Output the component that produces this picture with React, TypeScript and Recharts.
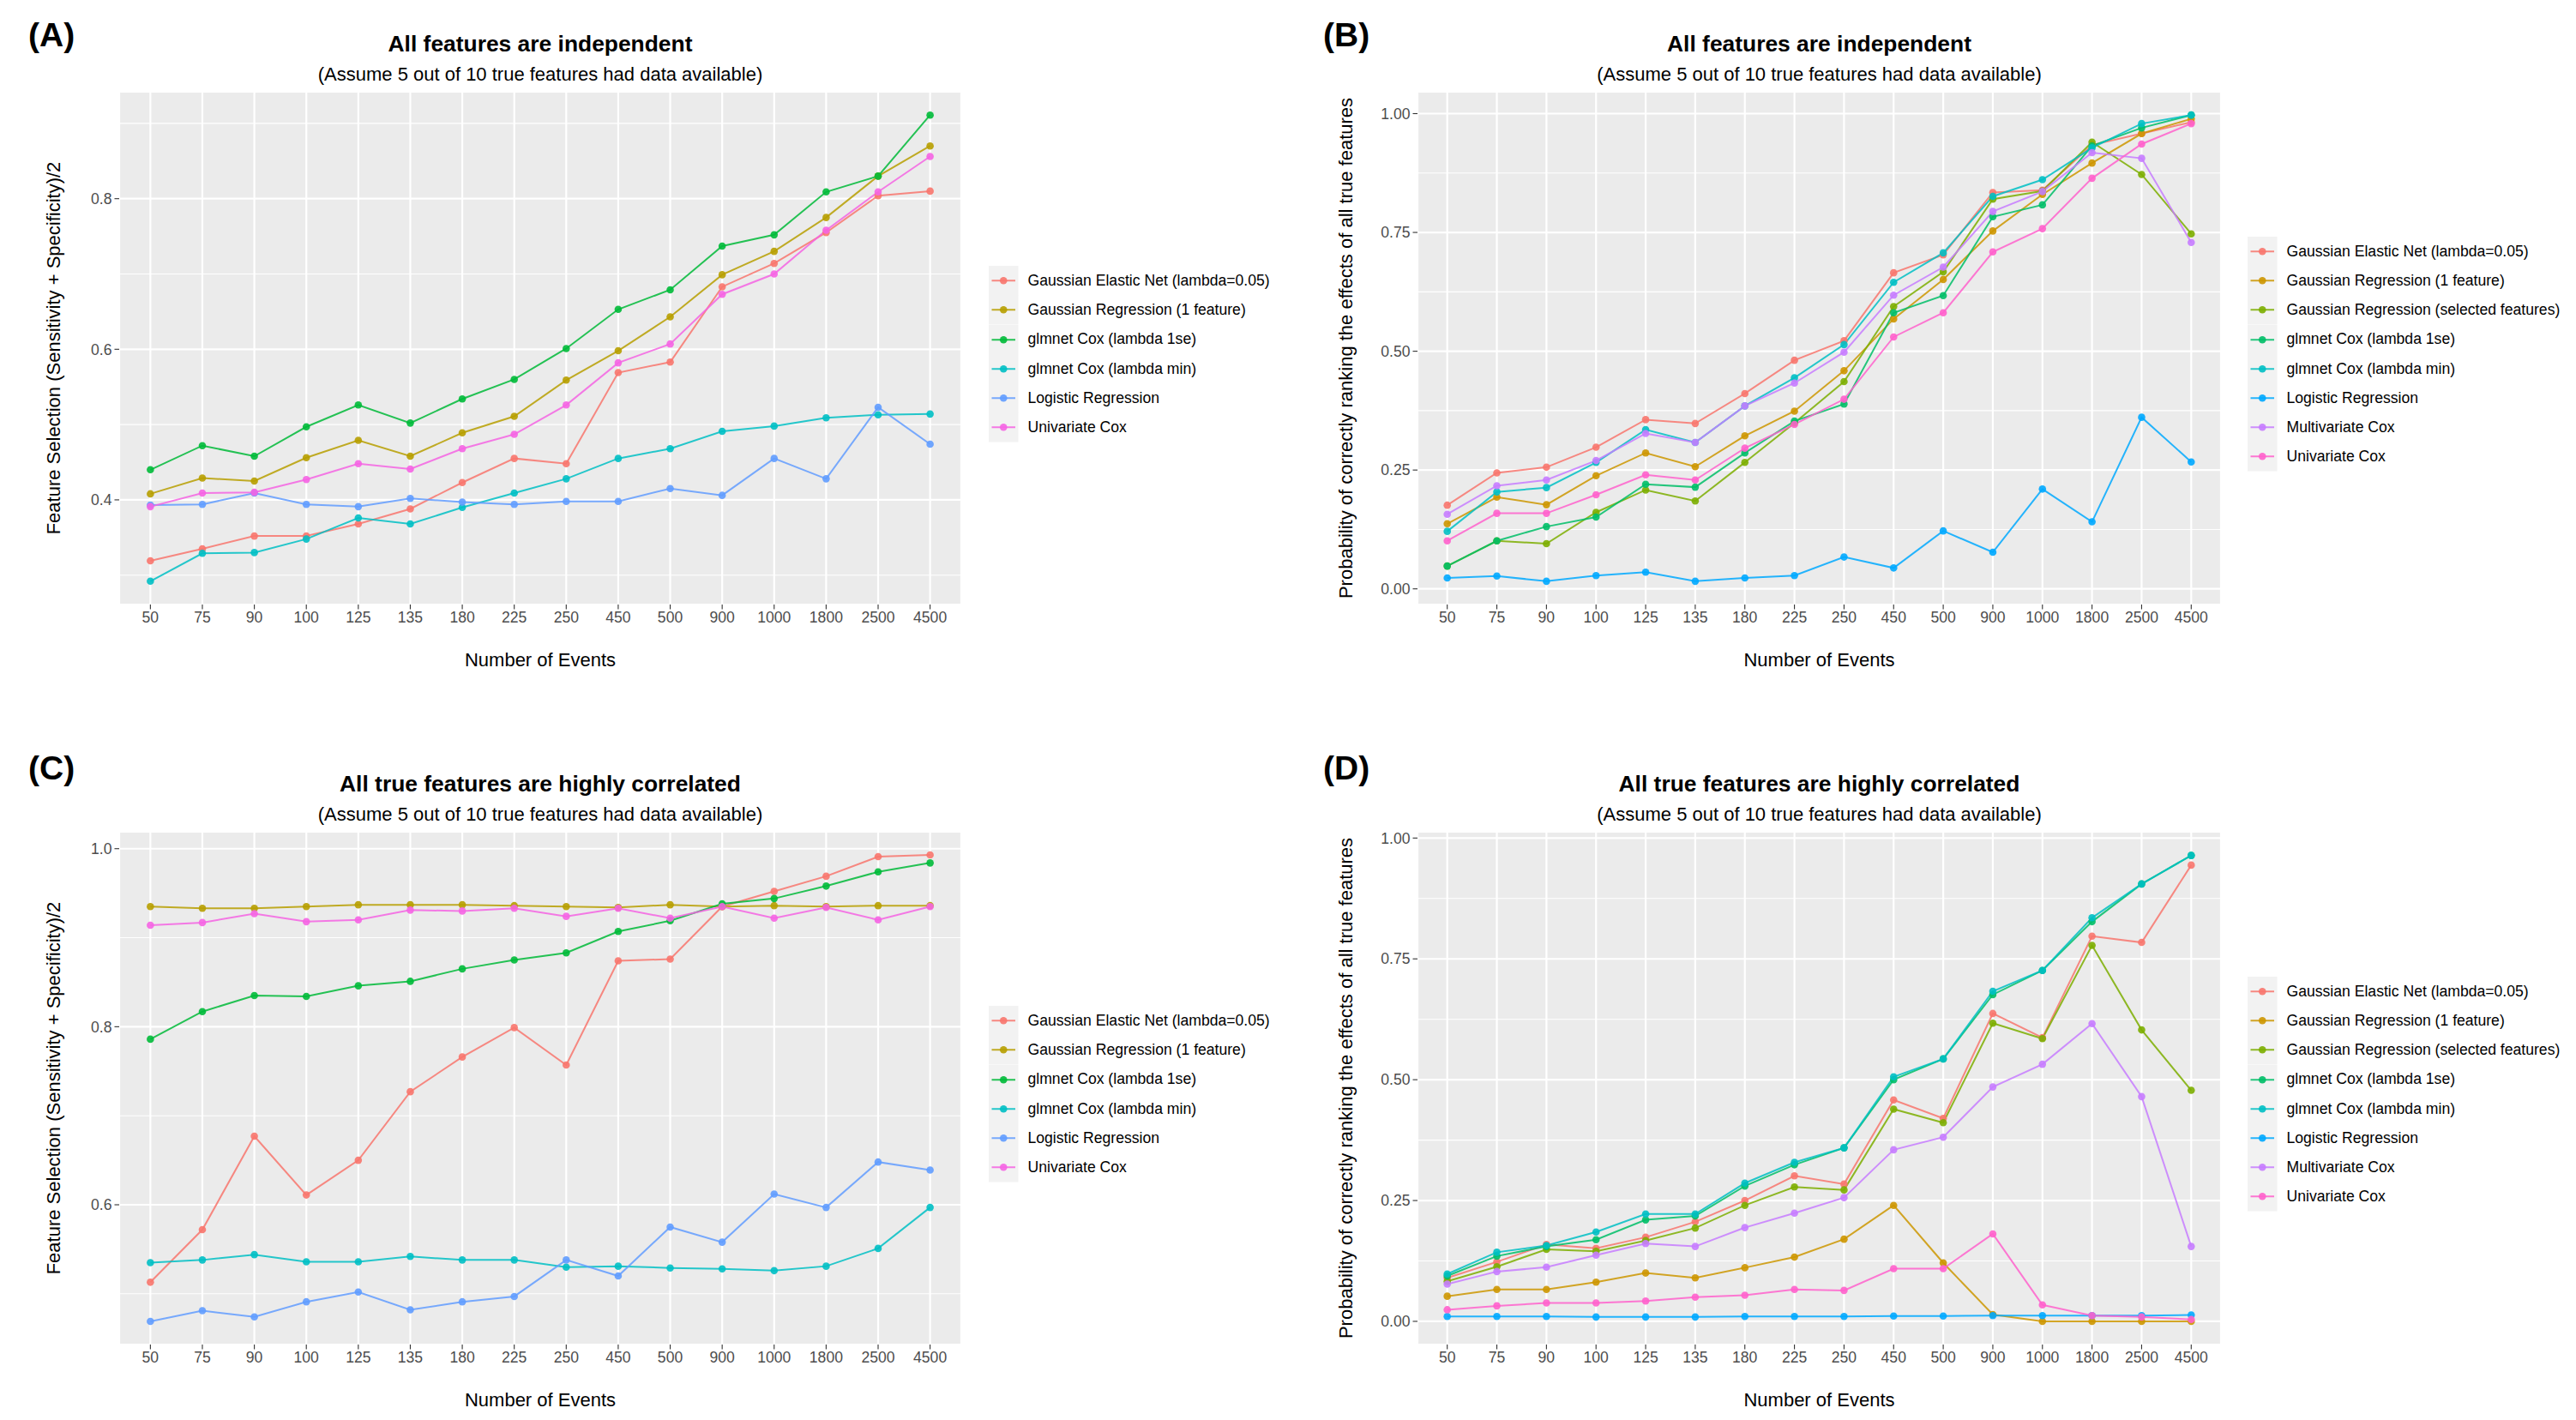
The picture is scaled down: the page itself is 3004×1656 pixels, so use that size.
import React from 'react';
import { LineChart, Line, XAxis, YAxis, CartesianGrid } from 'recharts';

const FONT = '"Liberation Sans", Arial, Helvetica, sans-serif';

const events = ['50', '75', '90', '100', '125', '135', '180', '225', '250', '450', '500', '900', '1000', '1800', '2500', '4500'];

const names6 = [
  'Gaussian Elastic Net (lambda=0.05)',
  'Gaussian Regression (1 feature)',
  'glmnet Cox (lambda 1se)',
  'glmnet Cox (lambda min)',
  'Logistic Regression',
  'Univariate Cox',
];
const names8 = [
  'Gaussian Elastic Net (lambda=0.05)',
  'Gaussian Regression (1 feature)',
  'Gaussian Regression (selected features)',
  'glmnet Cox (lambda 1se)',
  'glmnet Cox (lambda min)',
  'Logistic Regression',
  'Multivariate Cox',
  'Univariate Cox',
];
const hue6 = ['#F8766D', '#B79F00', '#00BA38', '#00BFC4', '#619CFF', '#F564E3'];
const hue8 = ['#F8766D', '#CD9600', '#7CAE00', '#00BE67', '#00BFC4', '#00A9FF', '#C77CFF', '#FF61CC'];

// (A) independent features, feature selection
const aElasticNet = [0.319, 0.335, 0.352, 0.352, 0.368, 0.388, 0.423, 0.455, 0.448, 0.569, 0.583, 0.683, 0.714, 0.755, 0.804, 0.810];
const aGaussReg1 = [0.408, 0.429, 0.425, 0.456, 0.479, 0.458, 0.489, 0.511, 0.559, 0.598, 0.643, 0.699, 0.730, 0.775, 0.830, 0.870];
const aCox1se = [0.440, 0.472, 0.458, 0.497, 0.526, 0.502, 0.534, 0.560, 0.601, 0.653, 0.679, 0.737, 0.752, 0.809, 0.830, 0.911];
const aCoxMin = [0.292, 0.329, 0.330, 0.348, 0.376, 0.368, 0.390, 0.409, 0.428, 0.455, 0.468, 0.491, 0.498, 0.509, 0.513, 0.514];
const aLogistic = [0.393, 0.394, 0.409, 0.394, 0.391, 0.402, 0.397, 0.394, 0.398, 0.398, 0.415, 0.406, 0.455, 0.428, 0.523, 0.474];
const aUniCox = [0.391, 0.409, 0.410, 0.427, 0.448, 0.441, 0.468, 0.487, 0.526, 0.582, 0.607, 0.673, 0.700, 0.758, 0.809, 0.856];

// (B) independent features, ranking probability
const bElasticNet = [0.176, 0.244, 0.256, 0.298, 0.356, 0.348, 0.411, 0.481, 0.522, 0.665, 0.703, 0.834, 0.839, 0.934, 0.958, 0.982];
const bGaussReg1 = [0.137, 0.193, 0.177, 0.238, 0.286, 0.257, 0.322, 0.374, 0.459, 0.568, 0.651, 0.753, 0.830, 0.896, 0.958, 0.989];
const bGaussRegSel = [0.048, 0.101, 0.095, 0.161, 0.208, 0.185, 0.266, 0.349, 0.436, 0.594, 0.667, 0.820, 0.837, 0.940, 0.872, 0.747];
const bCox1se = [0.048, 0.101, 0.131, 0.151, 0.220, 0.214, 0.286, 0.353, 0.389, 0.581, 0.617, 0.783, 0.808, 0.932, 0.970, 0.997];
const bCoxMin = [0.121, 0.204, 0.213, 0.266, 0.335, 0.308, 0.385, 0.444, 0.514, 0.645, 0.707, 0.826, 0.861, 0.928, 0.979, 0.997];
const bLogistic = [0.023, 0.027, 0.016, 0.028, 0.035, 0.016, 0.023, 0.028, 0.067, 0.044, 0.122, 0.077, 0.210, 0.141, 0.361, 0.267];
const bMultiCox = [0.157, 0.217, 0.229, 0.270, 0.327, 0.308, 0.385, 0.433, 0.498, 0.618, 0.677, 0.794, 0.836, 0.918, 0.906, 0.729];
const bUniCox = [0.101, 0.159, 0.159, 0.198, 0.240, 0.229, 0.296, 0.346, 0.399, 0.530, 0.581, 0.709, 0.758, 0.864, 0.936, 0.979];

// (C) correlated features, feature selection
const cElasticNet = [0.513, 0.572, 0.677, 0.611, 0.650, 0.727, 0.766, 0.799, 0.757, 0.874, 0.876, 0.935, 0.952, 0.969, 0.991, 0.993];
const cGaussReg1 = [0.935, 0.933, 0.933, 0.935, 0.937, 0.937, 0.937, 0.936, 0.935, 0.934, 0.937, 0.935, 0.936, 0.935, 0.936, 0.936];
const cCox1se = [0.786, 0.817, 0.835, 0.834, 0.846, 0.851, 0.865, 0.875, 0.883, 0.907, 0.919, 0.938, 0.944, 0.958, 0.974, 0.984];
const cCoxMin = [0.535, 0.538, 0.544, 0.536, 0.536, 0.542, 0.538, 0.538, 0.530, 0.531, 0.529, 0.528, 0.526, 0.531, 0.551, 0.597];
const cLogistic = [0.469, 0.481, 0.474, 0.491, 0.502, 0.482, 0.491, 0.497, 0.538, 0.520, 0.575, 0.558, 0.612, 0.597, 0.648, 0.639];
const cUniCox = [0.914, 0.917, 0.927, 0.918, 0.920, 0.931, 0.930, 0.933, 0.924, 0.933, 0.922, 0.935, 0.922, 0.934, 0.920, 0.935];

// (D) correlated features, ranking probability
const dElasticNet = [0.090, 0.123, 0.159, 0.151, 0.174, 0.206, 0.250, 0.301, 0.284, 0.458, 0.420, 0.637, 0.587, 0.797, 0.784, 0.944];
const dGaussReg1 = [0.052, 0.066, 0.066, 0.081, 0.100, 0.090, 0.111, 0.133, 0.170, 0.240, 0.121, 0.014, 0.000, 0.000, 0.000, 0.000];
const dGaussRegSel = [0.083, 0.113, 0.149, 0.145, 0.167, 0.193, 0.240, 0.278, 0.272, 0.439, 0.411, 0.617, 0.585, 0.778, 0.603, 0.478];
const dCox1se = [0.094, 0.135, 0.155, 0.169, 0.210, 0.218, 0.280, 0.324, 0.359, 0.500, 0.543, 0.676, 0.726, 0.827, 0.905, 0.964];
const dCoxMin = [0.098, 0.143, 0.157, 0.185, 0.222, 0.222, 0.286, 0.329, 0.359, 0.506, 0.543, 0.683, 0.726, 0.835, 0.905, 0.964];
const dLogistic = [0.010, 0.010, 0.010, 0.009, 0.009, 0.009, 0.010, 0.010, 0.010, 0.011, 0.011, 0.012, 0.012, 0.012, 0.012, 0.013];
const dMultiCox = [0.077, 0.103, 0.112, 0.137, 0.161, 0.155, 0.194, 0.224, 0.256, 0.355, 0.381, 0.485, 0.532, 0.616, 0.465, 0.155];
const dUniCox = [0.024, 0.032, 0.038, 0.038, 0.042, 0.050, 0.054, 0.066, 0.064, 0.109, 0.109, 0.181, 0.034, 0.012, 0.009, 0.004];

const titleIndep = 'All features are independent';
const titleCorr = 'All true features are highly correlated';
const subtitle = '(Assume 5 out of 10 true features had data available)';
const yTitleSel = 'Feature Selection (Sensitivity + Specificity)/2';
const yTitleRank = 'Probability of correctly ranking the effects of all true features';

function buildRows(series: number[][]) {
  return events.map((e, i) => {
    const row: Record<string, string | number> = { events: e };
    series.forEach((s, k) => {
      row['s' + k] = s[i];
    });
    return row;
  });
}

type PanelProps = {
  tag: string;
  title: string;
  yTitle: string;
  series: number[][];
  names: string[];
  colors: string[];
  domain: [number, number];
  ticks: number[];
  minor: number[];
  decimals: number;
  chartLeft: number;
  chartTop: number;
  plotLeft: number;
  plotRight: number;
  yTitleX: number;
  keyLeft: number;
  tagLeft: number;
  tagTop: number;
};

const ROW_H = 598;
const KEY = 34.5;

function Panel(p: PanelProps) {
  const rows = buildRows(p.series);
  const plotTop = p.chartTop + 107;
  const plotBottom = plotTop + ROW_H;
  const plotW = p.plotRight - p.plotLeft;
  const pad = (plotW / 16.2) * 0.6;
  const cx = (p.plotLeft + p.plotRight) / 2;
  const legendCenter = plotTop + 306;
  const tickStyle = { fill: '#4D4D4D', fontSize: 17.6, fontFamily: FONT };
  const tickLine = { stroke: '#333333', strokeWidth: 1.1 };

  return (
    <>
      <div style={{ position: 'absolute', left: p.tagLeft, top: p.tagTop, fontSize: 39, lineHeight: '39px', fontWeight: 700 }}>
        {p.tag}
      </div>
      <div style={{ position: 'absolute', left: cx - 500, width: 1000, top: plotTop - 69, textAlign: 'center', fontSize: 26.4, lineHeight: '26.4px', fontWeight: 700 }}>
        {p.title}
      </div>
      <div style={{ position: 'absolute', left: cx - 500, width: 1000, top: plotTop - 31, textAlign: 'center', fontSize: 22, lineHeight: '22px' }}>
        {subtitle}
      </div>
      <div style={{ position: 'absolute', left: cx - 300, width: 600, top: plotBottom + 54, textAlign: 'center', fontSize: 22, lineHeight: '22px' }}>
        Number of Events
      </div>
      <div
        style={{
          position: 'absolute',
          left: p.yTitleX - 400,
          width: 800,
          top: (plotTop + plotBottom) / 2 - 11,
          textAlign: 'center',
          fontSize: 22,
          lineHeight: '22px',
          transform: 'rotate(-90deg)',
          transformOrigin: '50% 50%',
        }}
      >
        {p.yTitle}
      </div>

      <div style={{ position: 'absolute', left: p.chartLeft, top: p.chartTop }}>
        <LineChart
          width={p.plotRight - p.chartLeft + 4}
          height={107 + ROW_H + 60}
          data={rows}
          margin={{ top: 107, right: 4, bottom: 0, left: 0 }}
        >
          <CartesianGrid fill="#EBEBEB" stroke="#FFFFFF" strokeWidth={2.2} />
          <CartesianGrid vertical={false} horizontalValues={p.minor} stroke="#FFFFFF" strokeWidth={1.1} />
          <XAxis
            dataKey="events"
            interval={0}
            padding={{ left: pad, right: pad }}
            height={60}
            axisLine={false}
            tickLine={tickLine}
            tickSize={5.5}
            tickMargin={3}
            tick={tickStyle}
          />
          <YAxis
            type="number"
            domain={p.domain}
            ticks={p.ticks}
            allowDataOverflow
            interval={0}
            width={p.plotLeft - p.chartLeft}
            axisLine={false}
            tickLine={tickLine}
            tickSize={5.5}
            tickMargin={3}
            tick={tickStyle}
            tickFormatter={(v: number) => v.toFixed(p.decimals)}
          />
          {p.series.map((_, k) => (
            <Line
              key={k}
              type="linear"
              dataKey={'s' + k}
              stroke={p.colors[k]}
              strokeWidth={2}
              strokeOpacity={0.85}
              dot={{ r: 4.3, fill: p.colors[k], stroke: 'none', fillOpacity: 0.9 }}
              activeDot={false}
              isAnimationActive={false}
            />
          ))}
        </LineChart>
      </div>

      {p.names.map((n, k) => {
        const yc = legendCenter - ((p.names.length - 1) / 2) * 34.2 + k * 34.2;
        return (
          <div
            key={n}
            style={{ position: 'absolute', left: p.keyLeft, top: yc - KEY / 2, height: KEY, display: 'flex', alignItems: 'center' }}
          >
            <svg width={KEY} height={KEY} style={{ display: 'block' }}>
              <rect x={0} y={0} width={KEY} height={KEY} fill="#F2F2F2" />
              <line x1={3.5} x2={KEY - 3.5} y1={KEY / 2} y2={KEY / 2} stroke={p.colors[k]} strokeWidth={2} strokeOpacity={0.85} />
              <circle cx={KEY / 2} cy={KEY / 2} r={4.3} fill={p.colors[k]} fillOpacity={0.9} />
            </svg>
            <span style={{ marginLeft: 11, fontSize: 17.6, color: '#000', whiteSpace: 'nowrap' }}>{n}</span>
          </div>
        );
      })}
    </>
  );
}

export default function App() {
  return (
    <div
      style={{
        position: 'absolute',
        left: 0,
        top: 0,
        width: 3004,
        height: 1656,
        background: '#FFFFFF',
        fontFamily: FONT,
        color: '#000',
        overflow: 'hidden',
      }}
    >
      <Panel
        tag="(A)"
        title={titleIndep}
        yTitle={yTitleSel}
        series={[aElasticNet, aGaussReg1, aCox1se, aCoxMin, aLogistic, aUniCox]}
        names={names6}
        colors={hue6}
        domain={[0.261, 0.942]}
        ticks={[0.4, 0.6, 0.8]}
        minor={[0.3, 0.5, 0.7, 0.9]}
        decimals={1}
        chartLeft={0}
        chartTop={0}
        plotLeft={139}
        plotRight={1121}
        yTitleX={63}
        keyLeft={1153}
        tagLeft={33}
        tagTop={21}
      />
      <Panel
        tag="(B)"
        title={titleIndep}
        yTitle={yTitleRank}
        series={[bElasticNet, bGaussReg1, bGaussRegSel, bCox1se, bCoxMin, bLogistic, bMultiCox, bUniCox]}
        names={names8}
        colors={hue8}
        domain={[-0.033, 1.046]}
        ticks={[0, 0.25, 0.5, 0.75, 1]}
        minor={[0.125, 0.375, 0.625, 0.875]}
        decimals={2}
        chartLeft={1500}
        chartTop={0}
        plotLeft={1653}
        plotRight={2590}
        yTitleX={1570}
        keyLeft={2621}
        tagLeft={1543}
        tagTop={21}
      />
      <Panel
        tag="(C)"
        title={titleCorr}
        yTitle={yTitleSel}
        series={[cElasticNet, cGaussReg1, cCox1se, cCoxMin, cLogistic, cUniCox]}
        names={names6}
        colors={hue6}
        domain={[0.443, 1.019]}
        ticks={[0.6, 0.8, 1.0]}
        minor={[0.5, 0.7, 0.9]}
        decimals={1}
        chartLeft={0}
        chartTop={863}
        plotLeft={139}
        plotRight={1121}
        yTitleX={63}
        keyLeft={1153}
        tagLeft={33}
        tagTop={876}
      />
      <Panel
        tag="(D)"
        title={titleCorr}
        yTitle={yTitleRank}
        series={[dElasticNet, dGaussReg1, dGaussRegSel, dCox1se, dCoxMin, dLogistic, dMultiCox, dUniCox]}
        names={names8}
        colors={hue8}
        domain={[-0.048, 1.013]}
        ticks={[0, 0.25, 0.5, 0.75, 1]}
        minor={[0.125, 0.375, 0.625, 0.875]}
        decimals={2}
        chartLeft={1500}
        chartTop={863}
        plotLeft={1653}
        plotRight={2590}
        yTitleX={1570}
        keyLeft={2621}
        tagLeft={1543}
        tagTop={876}
      />
    </div>
  );
}
